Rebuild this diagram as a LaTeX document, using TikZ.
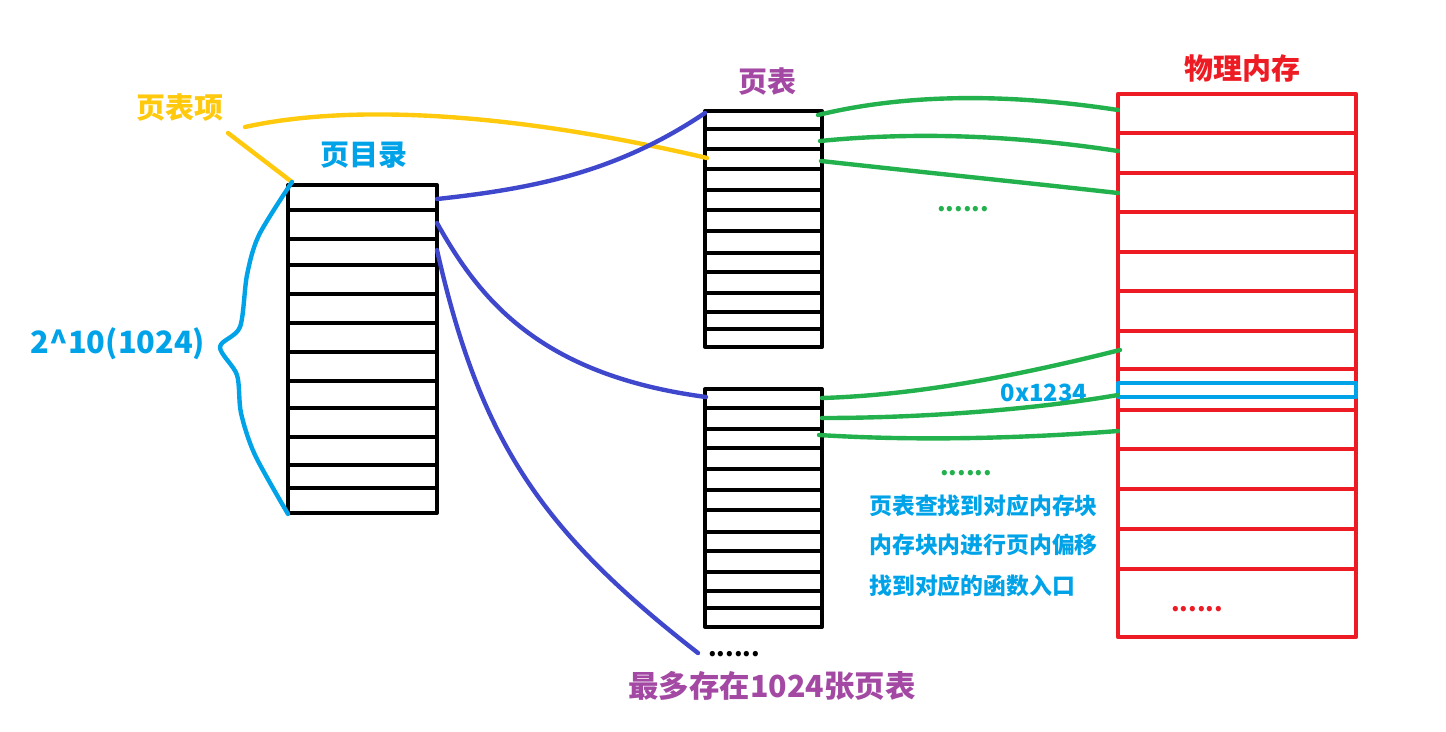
\documentclass[tikz,border=0pt]{standalone}
\usepackage{fontspec}
\setmainfont{Noto Sans CJK SC}
\usetikzlibrary{calc}
\definecolor{paintred}{RGB}{237,28,36}
\definecolor{paintgreen}{RGB}{34,177,76}
\definecolor{paintindigo}{RGB}{63,72,204}
\definecolor{paintcyan}{RGB}{0,162,232}
\definecolor{paintpurple}{RGB}{163,73,164}
\definecolor{paintgold}{RGB}{255,201,14}

\begin{document}
\begin{tikzpicture}[x=0.02cm, y=-0.02cm, line join=round,
        tablebox/.style={draw=black, line width=2.3pt},
        membox/.style={draw=paintred, line width=2.4pt},
        link/.style={line width=2.5pt, line cap=round},
        title/.style={font=\fontsize{16.5}{18}\selectfont\bfseries, inner sep=0pt},
        note/.style={font=\fontsize{13}{15}\selectfont\bfseries, text=paintcyan, anchor=west, inner sep=0pt},
        dots/.style={font=\fontsize{14}{16}\selectfont\bfseries, inner sep=0pt}
    ]
        \useasboundingbox (0,0) rectangle (1446,731);

        % page directory
        \draw[tablebox] (288,185) rectangle (437,513);
        \foreach \y in {210,239,265,294,323,352,381,408,437,465,488}
            \draw[tablebox] (288,\y) -- (437,\y);
        % page tables
        \draw[tablebox] (705,111) rectangle (822,347);
        \foreach \y in {129,149,169,190,210,231,253,272,293,312,329}
            \draw[tablebox] (705,\y) -- (822,\y);
        \draw[tablebox] (705,389) rectangle (822,627);
        \foreach \y in {408,429,448,469,490,510,532,551,572,591,608}
            \draw[tablebox] (705,\y) -- (822,\y);
        % physical memory
        \draw[membox] (1118,94) rectangle (1356,637);
        \foreach \y in {133,173,212,252,291,331,369,410,449,489,529,569}
            \draw[membox] (1118,\y) -- (1356,\y);
        \draw[draw=paintcyan, line width=2.6pt] (1118,383) rectangle (1356,397);

        % titles
        \node[title, text=paintred] (memtitle) at (1242,68) {物理内存};
        \node[title, text=paintpurple] (pttitle) at (767,82) {页表};
        \node[title, text=paintcyan] (dirtitle) at (364,155) {页目录};
        \node[title, text=paintgold] (pte) at (180,108) {页表项};
        \node[title, text=paintcyan, font=\fontsize{17.5}{19}\selectfont\bfseries] (count) at (118,344) {2\textasciicircum10(1024)};
        \node[inner sep=0pt, text=paintcyan, font=\fontsize{13.5}{15}\selectfont\bfseries] (addr) at (1044,393) {0x1234};
        \node[title, text=paintpurple, font=\fontsize{17.3}{19}\selectfont\bfseries] (maxpt) at (772,686) {最多存在1024张页表};
        \node[note] (stepa) at (869,506) {页表查找到对应内存块};
        \node[note] (stepb) at (869,545) {内存块内进行页内偏移};
        \node[note] (stepc) at (869,586) {找到对应的函数入口};
        \node[dots, text=paintgreen] (gdotsa) at (963,209) {......};
        \node[dots, text=paintgreen] (gdotsb) at (966,473) {......};
        \node[dots, text=paintred] (rdots) at (1197,609) {......};
        \node[dots, text=black] (kdots) at (734,654) {......};

        % connector ends
        \coordinate (dirA) at (437,199);
        \coordinate (dirB) at (437,223);
        \coordinate (dirC) at (437,250);
        \coordinate (dirTop) at (292,182);
        \coordinate (dirBot) at (288,514);
        \coordinate (ptA) at (705,113);
        \coordinate (ptB) at (706,397);
        \coordinate (ptItem) at (707,158);
        \coordinate (more) at (698,653);
        \coordinate (pteA) at (245,127);
        \coordinate (pteB) at (228,133);
        \coordinate (ptA1) at (818,115);
        \coordinate (ptA2) at (820,141);
        \coordinate (ptA3) at (821,161);
        \coordinate (ptB1) at (822,398);
        \coordinate (ptB2) at (822,418);
        \coordinate (ptB3) at (819,435);
        \coordinate (memA1) at (1118,110);
        \coordinate (memA2) at (1118,151);
        \coordinate (memA3) at (1118,193);
        \coordinate (memB1) at (1120,350);
        \coordinate (memB2) at (1118,395);
        \coordinate (memB3) at (1118,431);

        % page table entry marks
        \draw[link, paintgold] (pteA) .. controls (330,108) and (480,105) .. (ptItem);
        \draw[link, paintgold] (pteB) -- (dirTop);
        % 1024 brace
        \draw[link, paintcyan] plot[smooth, tension=0.5] coordinates {(dirTop) (259,235) (247,275) (240,327) (220,347) (237,375) (241,413) (255,455) (dirBot)};

        % directory to page tables
        \draw[link, paintindigo] (dirA) .. controls (540,188) and (620,170) .. (ptA);
        \draw[link, paintindigo] (dirB) .. controls (480,300) and (540,375) .. (ptB);
        \draw[link, paintindigo] (dirC) .. controls (480,440) and (540,530) .. (more);

        % page tables to memory
        \draw[link, paintgreen] (ptA1) .. controls (900,95) and (1000,92) .. (memA1);
        \draw[link, paintgreen] (ptA2) .. controls (900,133) and (1000,133) .. (memA2);
        \draw[link, paintgreen] (ptA3) .. controls (920,172) and (1020,182) .. (memA3);
        \draw[link, paintgreen] (ptB1) .. controls (920,395) and (1020,375) .. (memB1);
        \draw[link, paintgreen] (ptB2) .. controls (920,418) and (1030,410) .. (memB2);
        \draw[link, paintgreen] (ptB3) .. controls (900,440) and (1000,440) .. (memB3);
    \end{tikzpicture}
\end{document}
